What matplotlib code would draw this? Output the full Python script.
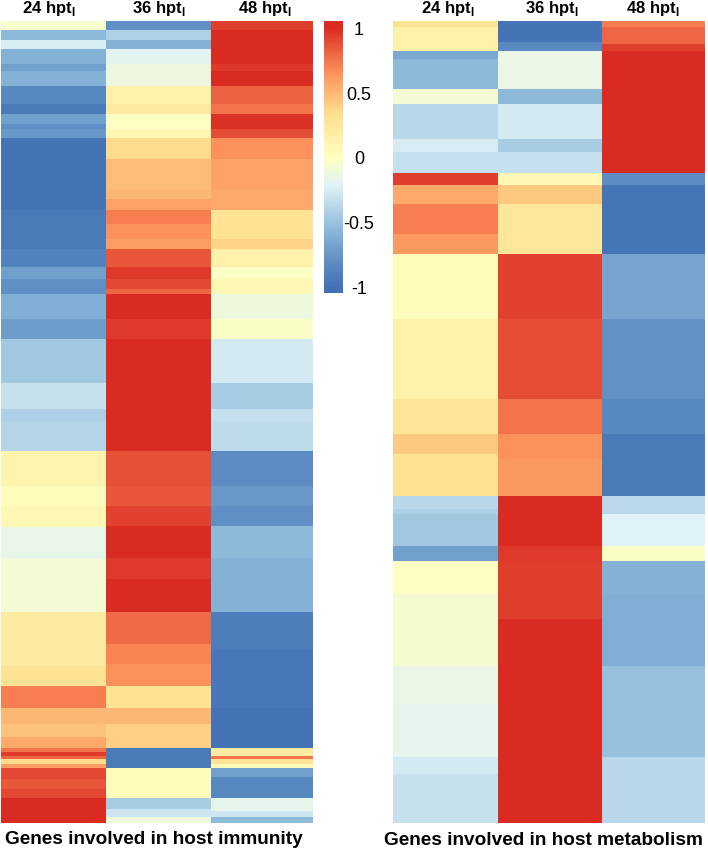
import numpy as np
import matplotlib
matplotlib.use('Agg')
import matplotlib.pyplot as plt
from matplotlib.colors import LinearSegmentedColormap, Normalize

plt.rcParams['font.family'] = ['Liberation Sans', 'DejaVu Sans']
plt.rcParams['mathtext.fontset'] = 'custom'
plt.rcParams['mathtext.bf'] = 'Liberation Sans:bold'

columns = ['24 hpt', '36 hpt', '48 hpt']
cbar_ticks = [-1, -0.5, 0, 0.5, 1]
cbar_labels = ['-1', '-0.5', '0', '0.5', '1']

# host immunity: runs of genes (top to bottom) and their scaled expression
imm_24_rows = [9, 10, 9, 15, 7, 15, 18, 10, 10, 5, 9, 72, 39, 18, 12, 15, 25, 20, 44, 26, 12, 30, 35, 20, 21,
               32, 53, 54, 20, 22, 16, 13, 11, 4, 4, 3, 5, 4, 11, 10, 9, 25]
imm_24_vals = [-.05, -.55, -.25, -.6, -.7, -.6, -.85, -.95, -.7, -.8, -.75, -1, -.95, -.88, -.7, -.8, -.62, -.72, -.47, -.32,
               -.42, -.4, .12, .03, .07, -.16, -.08, .22, .3, .72, .5, .45, .55, .75, .95, .8, .35, .6, .9, .85, .9, 1]
imm_36_rows = [9, 10, 9, 15, 22, 18, 10, 15, 9, 21, 30, 10, 11, 14, 15, 10, 18, 12, 10, 5, 25, 20, 112, 35, 20,
               20, 32, 21, 33, 32, 20, 22, 22, 16, 24, 20, 30, 11, 8, 6]
imm_36_vals = [-.8, -.42, -.6, -.2, -.13, .15, .22, -.02, .07, .35, .47, .5, .58, .72, .65, .6, .85, .95, .9, .8,
               1, .95, 1, .87, .85, .92, 1, .95, 1, .78, .7, .65, .3, .5, .4, -.95, .03, -.45, -.3, -.12]
imm_48_rows = [9, 34, 7, 15, 18, 10, 15, 9, 21, 30, 21, 29, 10, 18, 12, 15, 25, 20, 44, 26, 12, 30, 35, 20, 20,
               32, 54, 37, 59, 40, 8, 3, 5, 4, 9, 21, 13, 6, 6]
imm_48_vals = [.93, 1, .95, 1, .82, .75, .97, .88, .65, .58, .55, .3, .38, .15, -.02, .08, -.12, -.03, -.27, -.45,
               -.33, -.36, -.82, -.75, -.8, -.55, -.6, -.92, -.96, -1, .2, .75, .3, .05, -.7, -.85, -.18, -.3, -.55]

# host metabolism
met_24_rows = [6, 24, 8, 30, 15, 35, 13, 21, 12, 19, 30, 20, 65, 80, 35, 20, 42, 13, 5, 32, 15, 33, 72, 38, 53, 17, 49]
met_24_vals = [.28, .15, -.65, -.55, -.08, -.38, -.26, -.33, .93, .55, .72, .62, .03, .15, .28, .42, .3, -.38, -.42, -.47,
               -.7, -.02, -.07, -.14, -.18, -.27, -.32]
met_36_rows = [21, 9, 38, 15, 35, 13, 21, 12, 19, 50, 65, 80, 35, 25, 37, 50, 15, 58, 204]
met_36_vals = [-1, -.85, -.14, -.55, -.27, -.45, -.33, .08, .42, .25, .92, .88, .75, .65, .62, 1, .95, .93, 1]
met_48_rows = [6, 17, 7, 122, 12, 69, 65, 80, 35, 62, 18, 32, 15, 33, 72, 91, 66]
met_48_vals = [.72, .8, .93, 1, -.82, -.98, -.68, -.78, -.85, -.95, -.37, -.22, -.03, -.6, -.62, -.52, -.38]

W, H = 708, 853
VMIN, VMAX = -1.05, 1.05

# RdYlBu style scale, anchored on the scaled values
nodes = [-1.05, -1, -.8, -.55, -.22, 0, .33, .67, 1, 1.05]
hexes = ['#4070b4', '#4473b6', '#5f8fc4', '#8fbbdb', '#e0f2f7', '#ffffbf', '#fee090', '#fc8d59', '#d92b22', '#d92b22']
cmap = LinearSegmentedColormap.from_list('heat', [((n - VMIN) / (VMAX - VMIN), c) for n, c in zip(nodes, hexes)])
norm = Normalize(VMIN, VMAX)


def px_axes(fig, x0, y0, x1, y1):
    return fig.add_axes([x0 / W, 1 - y1 / H, (x1 - x0) / W, (y1 - y0) / H])


def heatmap(ax, cols, edges):
    mat = np.column_stack([np.repeat(v, r) for r, v in cols])
    y = np.arange(mat.shape[0] + 1)
    m = ax.pcolormesh(edges, y, mat, cmap=cmap, norm=norm, rasterized=True)
    ax.set_xlim(edges[0], edges[-1])
    ax.set_ylim(mat.shape[0], 0)
    ax.axis('off')
    return m


fig = plt.figure(figsize=(W / 100, H / 100), dpi=100)

ax1 = px_axes(fig, 1, 22, 313, 824)
mesh = heatmap(ax1, [(imm_24_rows, imm_24_vals), (imm_36_rows, imm_36_vals), (imm_48_rows, imm_48_vals)], [0, 105, 210, 312])

ax2 = px_axes(fig, 393, 22, 705, 824)
heatmap(ax2, [(met_24_rows, met_24_vals), (met_36_rows, met_36_vals), (met_48_rows, met_48_vals)], [0, 104.5, 209, 312])

# column headers
header_x = [49, 159, 265, 448, 552, 653]
for name, x in zip(columns * 2, header_x):
    fig.text(x / W, 1 - 8 / H, name + r'$_{\mathbf{I}}$', ha='center', va='center', fontsize=12, fontweight='bold')

fig.text(154 / W, 1 - 840 / H, 'Genes involved in host immunity', ha='center', va='center', fontsize=13.7, fontweight='bold')
fig.text(543 / W, 1 - 841 / H, 'Genes involved in host metabolism', ha='center', va='center', fontsize=13.7, fontweight='bold')

# colour key
cax = px_axes(fig, 324, 22, 343, 294)
cb = fig.colorbar(mesh, cax=cax)
cb.outline.set_visible(False)
cb.set_ticks(cbar_ticks)
cb.set_ticklabels(cbar_labels)
cax.tick_params(length=0, pad=11.5, labelsize=13)
for t in cax.get_yticklabels():
    t.set_ha('center')

fig.savefig('out.png', dpi=100)
